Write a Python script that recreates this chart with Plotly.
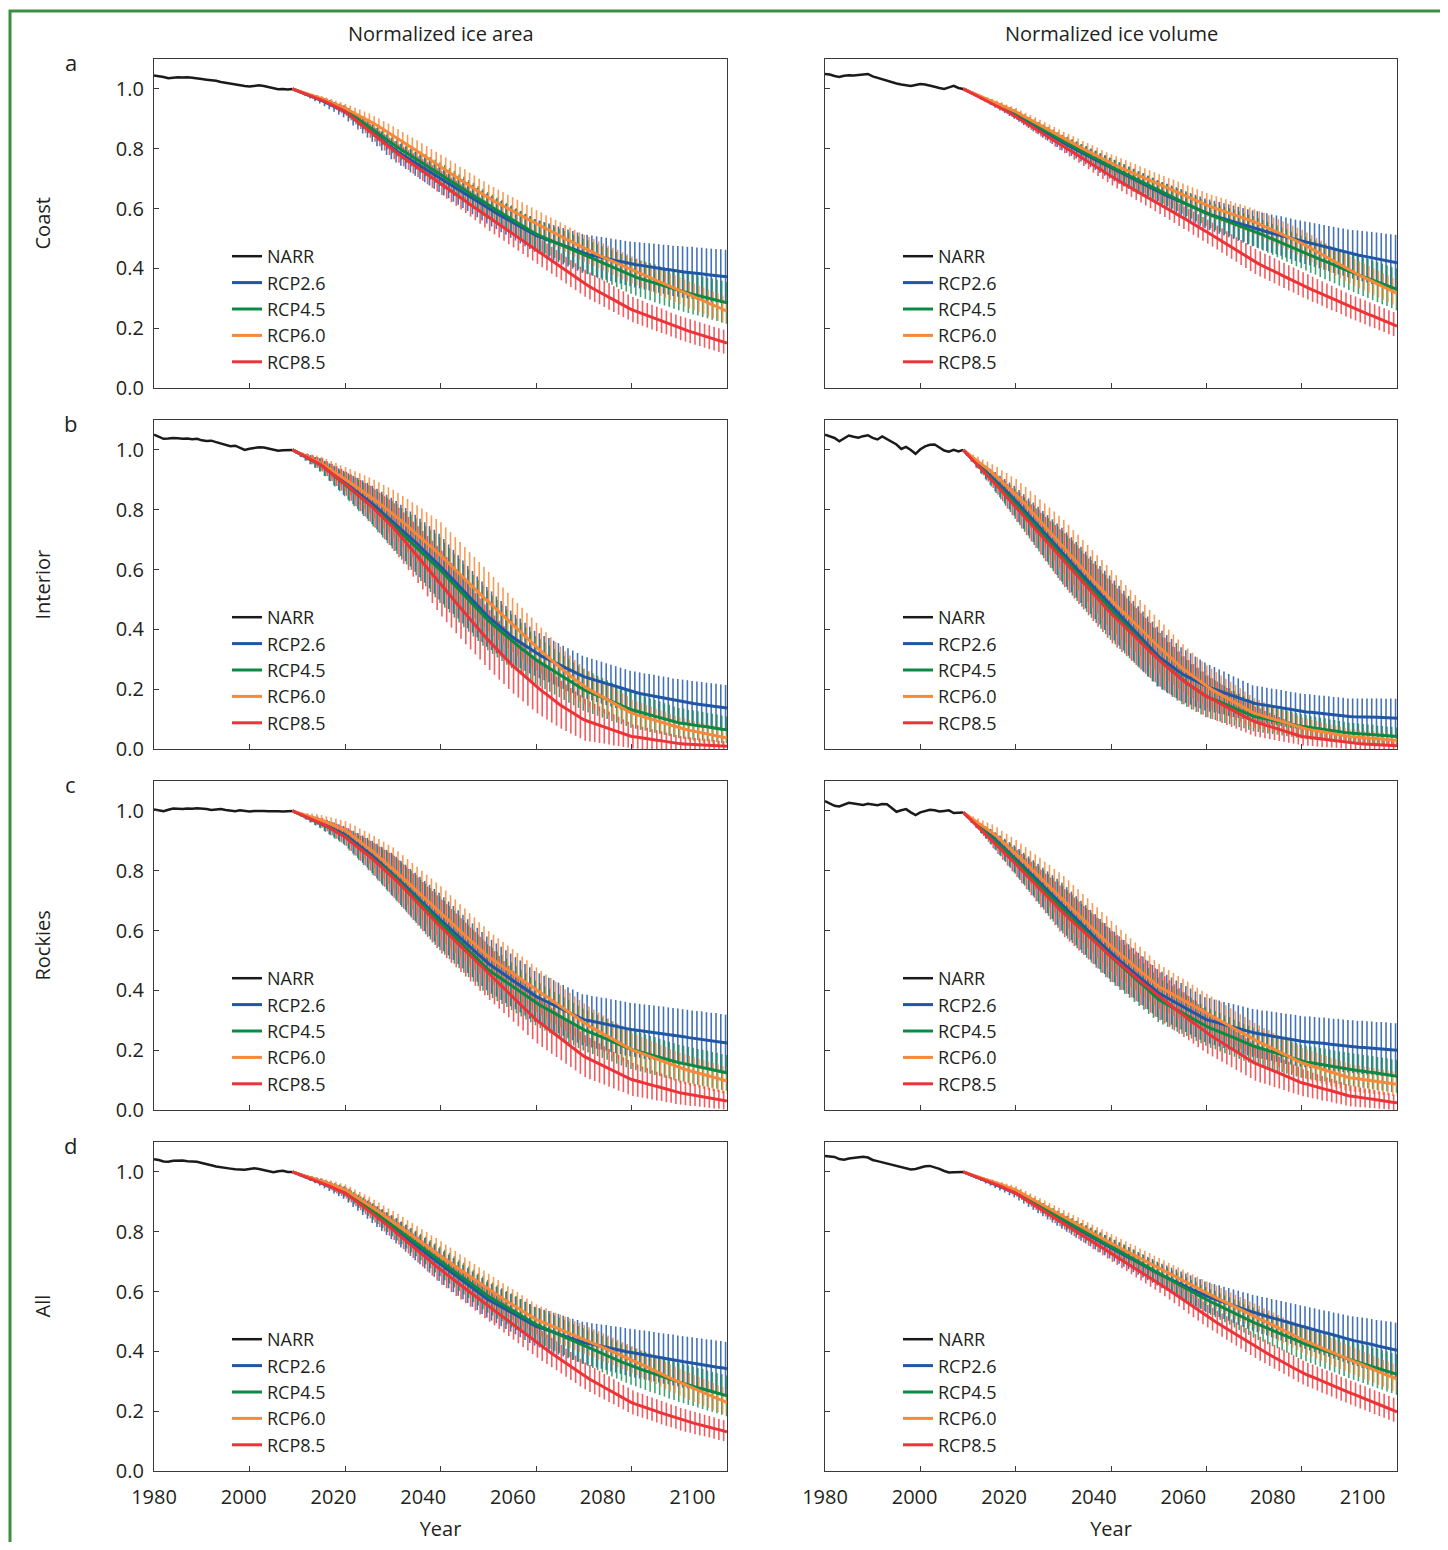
import plotly.graph_objects as go

# years
years_narr = list(range(1980, 2010))
years_proj = list(range(2009, 2101))
label_years = [1980, 2000, 2020, 2040, 2060, 2080, 2100]
tick_years = [2000, 2020, 2040, 2060, 2080]
y_ticks = [0.0, 0.2, 0.4, 0.6, 0.8, 1.0]

scenarios = ["RCP2.6", "RCP4.5", "RCP6.0", "RCP8.5"]
row_names = ["Coast", "Interior", "Rockies", "All"]
row_letters = ["a", "b", "c", "d"]
col_titles = ["Normalized ice area", "Normalized ice volume"]

# all values are normalized ice x 1000
narr_coast_area = [1045, 1043, 1040, 1036, 1038, 1039, 1038, 1039, 1037, 1036, 1033, 1031, 1030, 1027, 1023,
                   1020, 1018, 1015, 1012, 1010, 1008, 1010, 1012, 1010, 1006, 1002, 999, 1000, 998, 1000]
narr_coast_volume = [1050, 1048, 1043, 1040, 1044, 1046, 1045, 1047, 1048, 1050, 1042, 1037, 1033, 1028, 1022,
                     1018, 1015, 1012, 1010, 1013, 1016, 1015, 1012, 1007, 1003, 1000, 1005, 1010, 1003, 1000]
narr_interior_area = [1051, 1045, 1037, 1038, 1040, 1039, 1037, 1038, 1036, 1037, 1032, 1030, 1031, 1026, 1022,
                      1017, 1012, 1014, 1007, 1000, 1004, 1007, 1009, 1008, 1005, 1001, 997, 999, 1000, 1000]
narr_interior_volume = [1051, 1045, 1040, 1029, 1040, 1048, 1044, 1041, 1046, 1049, 1040, 1035, 1045, 1036, 1025,
                        1018, 1003, 1010, 1000, 987, 1002, 1012, 1017, 1018, 1008, 998, 994, 1000, 995, 1000]
narr_rockies_area = [1005, 1003, 999, 1004, 1008, 1007, 1006, 1008, 1007, 1009, 1008, 1006, 1003, 1004, 1006,
                     1003, 1000, 999, 1002, 1000, 998, 1000, 1001, 1000, 999, 1000, 999, 998, 998, 1000]
narr_rockies_volume = [1033, 1025, 1017, 1015, 1022, 1027, 1025, 1023, 1020, 1024, 1022, 1019, 1023, 1022, 1010,
                       997, 1002, 1006, 995, 986, 995, 1000, 1004, 1002, 998, 1000, 1002, 993, 995, 995]
narr_all_area = [1042, 1040, 1035, 1034, 1037, 1038, 1038, 1036, 1036, 1034, 1030, 1027, 1022, 1018, 1015,
                 1013, 1011, 1009, 1007, 1007, 1010, 1012, 1010, 1007, 1004, 999, 1002, 1004, 1000, 1000]
narr_all_volume = [1053, 1052, 1050, 1043, 1041, 1045, 1047, 1049, 1051, 1048, 1040, 1036, 1032, 1028, 1024,
                   1019, 1015, 1011, 1008, 1010, 1015, 1019, 1020, 1016, 1010, 1003, 998, 999, 1000, 1000]

# ---- Coast, area
coast_area_rcp26 = [1000, 994, 987, 981, 975, 968, 962, 955, 947, 940, 932, 925,
                    913, 901, 889, 877, 865, 852, 839, 826, 813, 800,
                    790, 780, 770, 760, 750, 740, 730, 720, 710, 700,
                    690, 680, 670, 660, 650, 640, 630, 620, 610, 600,
                    591, 582, 573, 564, 555, 546, 537, 528, 519, 510,
                    504, 498, 492, 486, 480, 474, 468, 462, 456, 450,
                    446, 443, 439, 436, 432, 429, 425, 422, 418, 415,
                    412, 410, 407, 405, 402, 400, 397, 395, 392, 390,
                    388, 386, 385, 383, 381, 379, 377, 376, 374, 372]
coast_area_rcp45 = [1000, 994, 988, 983, 977, 971, 965, 958, 951, 944, 937, 930,
                    919, 908, 897, 886, 875, 863, 851, 839, 827, 815,
                    805, 795, 785, 775, 765, 755, 745, 735, 725, 715,
                    705, 694, 684, 673, 663, 652, 642, 631, 621, 610,
                    601, 591, 582, 572, 563, 553, 544, 534, 525, 515,
                    508, 501, 494, 487, 480, 473, 466, 459, 452, 445,
                    438, 431, 424, 417, 410, 403, 396, 389, 382, 375,
                    370, 365, 360, 355, 350, 345, 340, 335, 330, 325,
                    321, 317, 313, 309, 305, 301, 297, 293, 289, 285]
coast_area_rcp60 = [1000, 995, 989, 984, 979, 973, 968, 961, 955, 948, 942, 935,
                    927, 919, 911, 903, 895, 885, 875, 865, 855, 845,
                    835, 824, 814, 803, 793, 782, 772, 761, 751, 740,
                    730, 719, 709, 698, 688, 677, 667, 656, 646, 635,
                    627, 618, 610, 601, 593, 584, 576, 567, 559, 550,
                    542, 533, 525, 517, 509, 500, 492, 484, 475, 467,
                    460, 453, 445, 438, 431, 424, 417, 409, 402, 395,
                    388, 381, 374, 367, 360, 353, 346, 339, 332, 325,
                    318, 311, 305, 298, 291, 284, 277, 271, 264, 257]
coast_area_rcp85 = [1000, 994, 988, 983, 977, 971, 965, 957, 949, 941, 933, 925,
                    912, 899, 886, 873, 860, 847, 834, 821, 808, 795,
                    784, 773, 762, 751, 740, 729, 718, 707, 696, 685,
                    674, 662, 651, 639, 628, 616, 605, 593, 582, 570,
                    559, 548, 537, 526, 515, 504, 493, 482, 471, 460,
                    449, 438, 427, 416, 405, 394, 383, 372, 361, 350,
                    341, 332, 324, 315, 306, 297, 288, 280, 271, 262,
                    256, 250, 243, 237, 231, 225, 219, 212, 206, 200,
                    195, 190, 185, 180, 175, 170, 165, 160, 155, 150]
coast_area_rcp26_err = [0, 2, 4, 5, 7, 9, 11, 13, 15, 16, 18, 20,
                        22, 23, 25, 26, 28, 29, 31, 32, 34, 35,
                        36, 37, 38, 39, 40, 41, 42, 43, 44, 45,
                        46, 46, 47, 47, 48, 48, 49, 49, 50, 50,
                        51, 51, 52, 52, 53, 53, 54, 54, 55, 55,
                        56, 57, 58, 59, 60, 61, 62, 63, 64, 65,
                        66, 67, 68, 69, 70, 71, 72, 73, 74, 75,
                        76, 77, 78, 79, 80, 81, 82, 83, 84, 85,
                        86, 86, 87, 87, 88, 88, 89, 89, 90, 90]
coast_area_rcp45_err = [0, 1, 3, 4, 5, 7, 8, 10, 11, 12, 14, 15,
                        17, 18, 20, 21, 23, 24, 26, 27, 29, 30,
                        31, 32, 33, 34, 35, 36, 37, 38, 39, 40,
                        41, 41, 42, 42, 43, 43, 44, 44, 45, 45,
                        46, 46, 47, 47, 48, 48, 49, 49, 50, 50,
                        51, 51, 52, 52, 53, 53, 54, 54, 55, 55,
                        56, 56, 57, 57, 58, 58, 59, 59, 60, 60,
                        61, 61, 62, 62, 63, 63, 64, 64, 65, 65,
                        66, 66, 67, 67, 68, 68, 69, 69, 70, 70]
coast_area_rcp60_err = [0, 1, 3, 4, 5, 7, 8, 10, 11, 12, 14, 15,
                        17, 18, 20, 21, 23, 24, 26, 27, 29, 30,
                        31, 32, 33, 34, 35, 36, 37, 38, 39, 40,
                        41, 41, 42, 42, 43, 43, 44, 44, 45, 45,
                        45, 45, 45, 45, 45, 45, 45, 45, 45, 45,
                        45, 45, 45, 45, 45, 45, 45, 45, 45, 45,
                        45, 45, 45, 45, 45, 45, 45, 45, 45, 45,
                        45, 45, 45, 45, 45, 45, 45, 45, 45, 45,
                        45, 45, 45, 45, 45, 45, 45, 45, 45, 45]
coast_area_rcp85_err = [0, 1, 3, 4, 5, 7, 8, 10, 11, 12, 14, 15,
                        17, 18, 20, 21, 23, 24, 26, 27, 29, 30,
                        31, 32, 33, 34, 35, 36, 37, 38, 39, 40,
                        41, 41, 42, 42, 43, 43, 44, 44, 45, 45,
                        45, 45, 45, 45, 45, 45, 45, 45, 45, 45,
                        45, 45, 45, 45, 45, 45, 45, 45, 45, 45,
                        45, 45, 44, 44, 44, 43, 43, 43, 42, 42,
                        42, 42, 41, 41, 41, 41, 40, 40, 40, 40,
                        40, 40, 40, 40, 40, 40, 40, 40, 40, 40]

# ---- Coast, volume
coast_volume_rcp26 = [1000, 993, 985, 978, 970, 963, 955, 947, 939, 931, 923, 915,
                      906, 896, 887, 877, 868, 858, 849, 839, 830, 820,
                      812, 803, 795, 786, 778, 769, 761, 752, 744, 735,
                      727, 719, 711, 703, 695, 687, 679, 671, 663, 655,
                      648, 641, 634, 627, 620, 612, 605, 598, 591, 584,
                      579, 574, 569, 564, 559, 554, 549, 544, 539, 534,
                      530, 525, 521, 516, 512, 508, 503, 499, 494, 490,
                      486, 482, 478, 474, 470, 466, 462, 458, 454, 450,
                      447, 444, 441, 438, 435, 432, 429, 425, 422, 419]
coast_volume_rcp45 = [1000, 993, 986, 979, 972, 965, 958, 950, 943, 935, 928, 920,
                      910, 901, 891, 882, 872, 863, 853, 844, 834, 825,
                      817, 808, 800, 791, 783, 774, 766, 757, 749, 740,
                      732, 724, 716, 708, 700, 692, 684, 676, 668, 660,
                      652, 645, 637, 630, 622, 614, 607, 599, 592, 584,
                      578, 572, 566, 560, 555, 549, 543, 537, 531, 525,
                      518, 511, 504, 497, 490, 483, 476, 469, 462, 455,
                      449, 442, 436, 429, 423, 416, 410, 403, 397, 390,
                      384, 378, 372, 366, 360, 354, 348, 342, 336, 330]
coast_volume_rcp60 = [1000, 993, 987, 980, 973, 967, 960, 953, 946, 938, 931, 924,
                      915, 906, 898, 889, 880, 871, 862, 853, 844, 835,
                      827, 818, 810, 801, 793, 785, 776, 768, 759, 751,
                      744, 737, 730, 723, 716, 708, 701, 694, 687, 680,
                      673, 666, 660, 653, 646, 639, 632, 626, 619, 612,
                      606, 601, 595, 590, 584, 578, 573, 567, 562, 556,
                      549, 542, 534, 527, 520, 513, 506, 498, 491, 484,
                      475, 466, 457, 448, 439, 430, 421, 412, 403, 394,
                      386, 378, 371, 363, 355, 347, 339, 332, 324, 316]
coast_volume_rcp85 = [1000, 992, 984, 976, 968, 960, 952, 943, 934, 926, 917, 908,
                      898, 888, 878, 868, 858, 848, 838, 827, 817, 807,
                      797, 787, 777, 767, 757, 747, 737, 727, 717, 707,
                      698, 689, 680, 671, 662, 653, 644, 635, 626, 617,
                      608, 598, 589, 579, 570, 561, 551, 542, 532, 523,
                      513, 503, 493, 483, 473, 463, 453, 443, 433, 423,
                      415, 407, 400, 392, 384, 376, 368, 361, 353, 345,
                      338, 330, 323, 316, 308, 301, 294, 287, 279, 272,
                      266, 259, 253, 246, 240, 233, 227, 220, 214, 207]
coast_volume_rcp26_err = [0, 1, 3, 4, 5, 7, 8, 10, 11, 12, 14, 15,
                          16, 17, 18, 19, 20, 21, 22, 23, 24, 25,
                          26, 27, 28, 29, 30, 31, 32, 33, 34, 35,
                          36, 36, 37, 37, 38, 38, 39, 39, 40, 40,
                          41, 42, 43, 44, 45, 46, 47, 48, 49, 50,
                          51, 52, 53, 54, 55, 56, 57, 58, 59, 60,
                          61, 62, 63, 64, 65, 66, 67, 68, 69, 70,
                          71, 72, 73, 74, 75, 76, 77, 78, 79, 80,
                          81, 83, 84, 85, 87, 88, 89, 91, 92, 93]
coast_volume_rcp45_err = [0, 1, 2, 3, 4, 5, 7, 8, 9, 10, 11, 12,
                          13, 14, 15, 16, 17, 18, 19, 20, 21, 22,
                          23, 24, 24, 25, 26, 27, 28, 28, 29, 30,
                          31, 31, 32, 32, 33, 33, 34, 34, 35, 35,
                          36, 37, 37, 38, 39, 39, 40, 41, 41, 42,
                          43, 44, 44, 45, 46, 47, 48, 48, 49, 50,
                          51, 51, 52, 52, 53, 53, 54, 54, 55, 55,
                          56, 57, 57, 58, 59, 59, 60, 61, 61, 62,
                          63, 64, 64, 65, 66, 67, 68, 68, 69, 70]
coast_volume_rcp60_err = [0, 1, 2, 3, 4, 5, 7, 8, 9, 10, 11, 12,
                          13, 14, 15, 16, 17, 18, 19, 20, 21, 22,
                          23, 24, 24, 25, 26, 27, 28, 28, 29, 30,
                          31, 31, 32, 32, 33, 33, 34, 34, 35, 35,
                          36, 36, 37, 37, 38, 38, 39, 39, 40, 40,
                          40, 40, 41, 41, 41, 41, 42, 42, 42, 42,
                          42, 43, 43, 43, 44, 44, 44, 45, 45, 45,
                          45, 45, 45, 45, 45, 45, 45, 45, 45, 45,
                          45, 45, 45, 45, 45, 45, 45, 45, 45, 45]
coast_volume_rcp85_err = [0, 1, 2, 3, 4, 5, 7, 8, 9, 10, 11, 12,
                          13, 14, 15, 16, 17, 18, 19, 20, 21, 22,
                          23, 24, 24, 25, 26, 27, 28, 28, 29, 30,
                          31, 31, 32, 32, 33, 33, 34, 34, 35, 35,
                          36, 36, 37, 37, 38, 38, 39, 39, 40, 40,
                          40, 40, 41, 41, 41, 41, 42, 42, 42, 42,
                          42, 42, 42, 42, 42, 42, 42, 42, 42, 42,
                          42, 42, 41, 41, 41, 41, 40, 40, 40, 40,
                          40, 40, 40, 40, 40, 40, 40, 40, 40, 40]

# ---- Interior, area
interior_area_rcp26 = [1000, 992, 983, 975, 967, 958, 950, 938, 926, 914, 902, 890,
                       878, 866, 854, 842, 830, 816, 802, 788, 774, 760,
                       746, 731, 717, 702, 688, 672, 657, 641, 626, 610,
                       593, 576, 559, 542, 525, 508, 492, 475, 459, 442,
                       429, 415, 402, 388, 375, 364, 353, 342, 331, 320,
                       312, 304, 297, 289, 281, 273, 265, 258, 250, 242,
                       237, 232, 227, 222, 217, 212, 207, 202, 197, 192,
                       189, 185, 182, 179, 176, 172, 169, 166, 162, 159,
                       157, 155, 152, 150, 148, 146, 144, 141, 139, 137]
interior_area_rcp45 = [1000, 992, 983, 975, 967, 958, 950, 937, 924, 911, 898, 885,
                       872, 860, 847, 835, 822, 808, 793, 779, 764, 750,
                       735, 720, 706, 691, 676, 660, 645, 629, 614, 598,
                       581, 564, 546, 529, 512, 496, 479, 463, 446, 430,
                       416, 402, 388, 374, 360, 348, 335, 323, 310, 298,
                       288, 278, 268, 258, 248, 238, 228, 218, 208, 198,
                       191, 185, 178, 171, 165, 158, 151, 145, 138, 131,
                       127, 122, 118, 113, 109, 105, 100, 96, 91, 87,
                       85, 82, 80, 78, 76, 73, 71, 69, 66, 64]
interior_area_rcp60 = [1000, 993, 985, 978, 970, 963, 955, 945, 934, 924, 913, 903,
                       892, 881, 870, 859, 848, 836, 824, 811, 799, 787,
                       774, 760, 747, 733, 720, 706, 691, 677, 662, 648,
                       632, 617, 601, 586, 570, 554, 539, 523, 508, 492,
                       477, 461, 446, 430, 415, 400, 386, 371, 357, 342,
                       328, 314, 300, 286, 272, 259, 247, 234, 222, 209,
                       200, 191, 182, 173, 165, 156, 147, 138, 129, 120,
                       115, 110, 105, 100, 95, 90, 85, 80, 75, 70,
                       67, 63, 60, 57, 53, 50, 47, 44, 40, 37]
interior_area_rcp85 = [1000, 992, 983, 975, 967, 958, 950, 937, 925, 912, 900, 887,
                       874, 860, 847, 833, 820, 804, 789, 773, 758, 742,
                       724, 705, 687, 668, 650, 631, 611, 592, 572, 553,
                       533, 514, 494, 475, 455, 437, 419, 401, 382, 364,
                       347, 330, 314, 297, 280, 266, 252, 237, 223, 209,
                       197, 185, 172, 160, 148, 138, 128, 118, 108, 98,
                       92, 87, 81, 76, 70, 64, 59, 53, 48, 42,
                       40, 37, 35, 32, 30, 28, 25, 23, 20, 18,
                       17, 16, 15, 14, 14, 13, 12, 11, 10, 9]
interior_area_rcp26_err = [0, 4, 7, 11, 15, 18, 22, 25, 29, 33, 36, 40,
                           44, 48, 52, 56, 60, 64, 68, 72, 76, 80,
                           83, 86, 89, 92, 95, 98, 101, 104, 107, 110,
                           109, 108, 107, 106, 105, 104, 103, 102, 101, 100,
                           98, 95, 93, 90, 88, 85, 83, 80, 78, 75,
                           75, 74, 74, 73, 73, 72, 72, 71, 71, 70,
                           70, 70, 70, 70, 70, 70, 70, 70, 70, 70,
                           70, 71, 71, 72, 72, 73, 73, 74, 74, 75,
                           75, 75, 75, 76, 76, 76, 76, 77, 77, 77]
interior_area_rcp45_err = [0, 4, 7, 11, 15, 18, 22, 25, 29, 33, 36, 40,
                           44, 48, 52, 56, 60, 64, 68, 72, 76, 80,
                           83, 86, 89, 92, 95, 98, 101, 104, 107, 110,
                           109, 108, 107, 106, 105, 104, 103, 102, 101, 100,
                           98, 96, 94, 92, 90, 88, 86, 84, 82, 80,
                           79, 78, 77, 76, 75, 74, 73, 72, 71, 70,
                           69, 68, 67, 66, 65, 64, 63, 62, 61, 60,
                           59, 58, 57, 56, 55, 54, 53, 52, 51, 50,
                           50, 49, 49, 48, 48, 47, 47, 46, 46, 45]
interior_area_rcp60_err = [0, 4, 7, 11, 15, 18, 22, 25, 29, 33, 36, 40,
                           44, 48, 52, 56, 60, 64, 68, 72, 76, 80,
                           83, 86, 89, 92, 95, 98, 101, 104, 107, 110,
                           109, 108, 107, 106, 105, 104, 103, 102, 101, 100,
                           98, 96, 94, 92, 90, 88, 86, 84, 82, 80,
                           78, 76, 74, 72, 70, 68, 66, 64, 62, 60,
                           59, 57, 56, 54, 53, 51, 50, 48, 47, 45,
                           44, 43, 42, 41, 40, 39, 38, 37, 36, 35,
                           35, 34, 34, 33, 33, 32, 32, 31, 31, 30]
interior_area_rcp85_err = [0, 4, 7, 11, 15, 18, 22, 25, 29, 33, 36, 40,
                           44, 48, 52, 56, 60, 64, 68, 72, 76, 80,
                           83, 86, 89, 92, 95, 98, 101, 104, 107, 110,
                           109, 108, 107, 106, 105, 104, 103, 102, 101, 100,
                           99, 98, 97, 96, 95, 94, 93, 92, 91, 90,
                           88, 86, 84, 82, 80, 78, 76, 74, 72, 70,
                           67, 64, 61, 58, 55, 52, 49, 46, 43, 40,
                           39, 37, 36, 34, 33, 31, 30, 28, 27, 25,
                           24, 23, 22, 21, 20, 19, 18, 17, 16, 15]

# ---- Interior, volume
interior_volume_rcp26 = [1000, 985, 970, 955, 940, 925, 910, 894, 878, 862, 846, 830,
                         812, 794, 776, 758, 740, 722, 704, 686, 668, 650,
                         633, 616, 599, 582, 565, 548, 531, 514, 497, 480,
                         463, 446, 429, 412, 395, 377, 360, 343, 326, 309,
                         297, 285, 274, 262, 250, 242, 234, 225, 217, 209,
                         203, 198, 192, 187, 181, 175, 170, 164, 159, 153,
                         150, 148, 145, 142, 140, 137, 134, 131, 129, 126,
                         124, 123, 121, 119, 118, 116, 114, 113, 111, 109,
                         108, 108, 107, 107, 106, 106, 105, 104, 104, 103]
interior_volume_rcp45 = [1000, 984, 968, 953, 937, 921, 905, 888, 871, 854, 837, 820,
                         802, 784, 766, 748, 730, 712, 694, 676, 658, 640,
                         623, 605, 588, 570, 553, 535, 518, 500, 483, 465,
                         449, 432, 416, 399, 383, 366, 350, 333, 317, 300,
                         286, 272, 258, 244, 230, 219, 208, 198, 187, 176,
                         169, 163, 156, 149, 143, 136, 129, 123, 116, 109,
                         106, 102, 99, 96, 93, 89, 86, 83, 79, 76,
                         74, 71, 69, 67, 65, 62, 60, 58, 55, 53,
                         52, 51, 50, 49, 48, 46, 45, 44, 43, 42]
interior_volume_rcp60 = [1000, 988, 975, 963, 950, 938, 925, 911, 896, 882, 867, 853,
                         835, 818, 800, 783, 765, 747, 729, 712, 694, 676,
                         658, 640, 623, 605, 587, 569, 551, 534, 516, 498,
                         482, 467, 451, 436, 420, 404, 389, 373, 358, 342,
                         328, 313, 299, 284, 270, 258, 246, 233, 221, 209,
                         200, 191, 182, 173, 165, 156, 147, 138, 129, 120,
                         115, 110, 105, 100, 95, 90, 85, 80, 75, 70,
                         67, 64, 62, 59, 56, 53, 50, 48, 45, 42,
                         41, 39, 38, 37, 36, 34, 33, 32, 30, 29]
interior_volume_rcp85 = [1000, 983, 967, 950, 933, 917, 900, 882, 864, 845, 827, 809,
                         791, 773, 756, 738, 720, 702, 684, 667, 649, 631,
                         613, 595, 578, 560, 542, 524, 506, 489, 471, 453,
                         438, 422, 407, 391, 376, 360, 345, 329, 314, 298,
                         284, 271, 257, 244, 230, 219, 208, 198, 187, 176,
                         168, 159, 151, 142, 134, 126, 117, 109, 100, 92,
                         87, 82, 77, 72, 67, 62, 57, 52, 47, 42,
                         40, 38, 35, 33, 31, 29, 27, 24, 22, 20,
                         19, 18, 17, 16, 16, 15, 14, 13, 12, 11]
interior_volume_rcp26_err = [0, 5, 9, 14, 18, 23, 27, 32, 36, 41, 45, 50,
                             54, 58, 62, 66, 70, 74, 78, 82, 86, 90,
                             91, 92, 93, 94, 95, 96, 97, 98, 99, 100,
                             100, 100, 100, 100, 100, 100, 100, 100, 100, 100,
                             98, 96, 94, 92, 90, 88, 86, 84, 82, 80,
                             78, 76, 74, 72, 70, 68, 66, 64, 62, 60,
                             60, 60, 60, 60, 60, 60, 60, 60, 60, 60,
                             60, 60, 60, 60, 60, 60, 60, 60, 60, 60,
                             61, 61, 62, 62, 63, 63, 64, 64, 65, 65]
interior_volume_rcp45_err = [0, 5, 9, 14, 18, 23, 27, 32, 36, 41, 45, 50,
                             54, 58, 62, 66, 70, 74, 78, 82, 86, 90,
                             91, 92, 93, 94, 95, 96, 97, 98, 99, 100,
                             99, 98, 97, 96, 95, 94, 93, 92, 91, 90,
                             88, 86, 84, 82, 80, 78, 76, 74, 72, 70,
                             68, 66, 64, 62, 60, 58, 56, 54, 52, 50,
                             49, 48, 47, 46, 45, 44, 43, 42, 41, 40,
                             40, 39, 39, 38, 38, 37, 37, 36, 36, 35,
                             35, 34, 34, 33, 33, 32, 32, 31, 31, 30]
interior_volume_rcp60_err = [0, 5, 9, 14, 18, 23, 27, 32, 36, 41, 45, 50,
                             54, 58, 62, 66, 70, 74, 78, 82, 86, 90,
                             91, 92, 93, 94, 95, 96, 97, 98, 99, 100,
                             99, 98, 97, 96, 95, 94, 93, 92, 91, 90,
                             88, 86, 84, 82, 80, 78, 76, 74, 72, 70,
                             68, 66, 64, 62, 60, 58, 56, 54, 52, 50,
                             49, 47, 46, 44, 43, 41, 40, 38, 37, 35,
                             34, 33, 32, 31, 30, 29, 28, 27, 26, 25,
                             25, 24, 24, 23, 23, 22, 22, 21, 21, 20]
interior_volume_rcp85_err = [0, 5, 9, 14, 18, 23, 27, 32, 36, 41, 45, 50,
                             54, 58, 62, 66, 70, 74, 78, 82, 86, 90,
                             91, 92, 93, 94, 95, 96, 97, 98, 99, 100,
                             99, 98, 97, 96, 95, 94, 93, 92, 91, 90,
                             88, 86, 84, 82, 80, 78, 76, 74, 72, 70,
                             68, 66, 64, 62, 60, 58, 56, 54, 52, 50,
                             48, 46, 44, 42, 40, 38, 36, 34, 32, 30,
                             29, 28, 27, 26, 25, 24, 23, 22, 21, 20,
                             19, 18, 18, 17, 16, 15, 14, 14, 13, 12]

# ---- Rockies, area
rockies_area_rcp26 = [1000, 993, 987, 980, 973, 967, 960, 952, 944, 936, 928, 920,
                      908, 896, 884, 872, 860, 846, 832, 818, 804, 790,
                      775, 759, 744, 728, 713, 698, 682, 667, 651, 636,
                      621, 607, 592, 578, 563, 548, 534, 519, 505, 490,
                      479, 468, 457, 446, 435, 424, 413, 402, 391, 380,
                      372, 364, 357, 349, 341, 333, 325, 318, 310, 302,
                      299, 295, 292, 289, 286, 282, 279, 276, 272, 269,
                      267, 265, 262, 260, 258, 256, 254, 251, 249, 247,
                      245, 242, 240, 238, 236, 233, 231, 229, 226, 224]
rockies_area_rcp45 = [1000, 993, 986, 979, 972, 965, 958, 949, 941, 932, 924, 915,
                      902, 890, 877, 865, 852, 839, 825, 812, 798, 785,
                      769, 753, 737, 721, 705, 688, 672, 656, 640, 624,
                      609, 593, 578, 562, 547, 531, 516, 500, 485, 469,
                      458, 447, 436, 425, 414, 402, 391, 380, 369, 358,
                      349, 340, 331, 322, 314, 305, 296, 287, 278, 269,
                      262, 256, 249, 242, 236, 229, 222, 215, 209, 202,
                      198, 193, 189, 184, 180, 176, 171, 167, 162, 158,
                      155, 151, 148, 144, 141, 138, 134, 131, 127, 124]
rockies_area_rcp60 = [1000, 995, 990, 985, 980, 975, 970, 963, 956, 950, 943, 936,
                      924, 912, 899, 887, 875, 862, 848, 835, 821, 808,
                      793, 778, 763, 748, 733, 718, 703, 688, 673, 658,
                      644, 629, 615, 600, 586, 571, 557, 542, 528, 513,
                      502, 491, 480, 469, 458, 446, 435, 424, 413, 402,
                      391, 380, 369, 358, 347, 335, 324, 313, 302, 291,
                      282, 273, 264, 255, 247, 238, 229, 220, 211, 202,
                      196, 190, 184, 178, 172, 165, 159, 153, 147, 141,
                      137, 132, 128, 123, 119, 115, 110, 106, 101, 97]
rockies_area_rcp85 = [1000, 993, 987, 980, 973, 967, 960, 951, 941, 932, 922, 913,
                      900, 888, 875, 863, 850, 836, 822, 808, 794, 780,
                      763, 747, 730, 713, 697, 680, 663, 646, 630, 613,
                      598, 582, 567, 551, 536, 520, 505, 489, 474, 458,
                      442, 427, 411, 396, 380, 364, 349, 333, 318, 302,
                      290, 278, 265, 253, 241, 229, 217, 204, 192, 180,
                      172, 164, 157, 149, 141, 133, 125, 118, 110, 102,
                      98, 93, 89, 84, 80, 76, 71, 67, 62, 58,
                      55, 52, 50, 47, 44, 41, 38, 36, 33, 30]
rockies_area_rcp26_err = [0, 3, 5, 8, 11, 14, 16, 19, 22, 25, 27, 30,
                          34, 38, 42, 46, 50, 54, 58, 62, 66, 70,
                          72, 74, 76, 78, 80, 82, 84, 86, 88, 90,
                          90, 90, 90, 90, 90, 90, 90, 90, 90, 90,
                          90, 89, 89, 88, 88, 87, 87, 86, 86, 85,
                          85, 85, 85, 85, 85, 85, 85, 85, 85, 85,
                          86, 86, 87, 87, 88, 88, 89, 89, 90, 90,
                          90, 90, 91, 91, 91, 91, 92, 92, 92, 92,
                          92, 93, 93, 93, 94, 94, 94, 95, 95, 95]
rockies_area_rcp45_err = [0, 3, 5, 8, 11, 14, 16, 19, 22, 25, 27, 30,
                          34, 38, 42, 46, 50, 54, 58, 62, 66, 70,
                          72, 74, 76, 78, 80, 82, 84, 86, 88, 90,
                          90, 89, 89, 88, 88, 87, 87, 86, 86, 85,
                          84, 83, 82, 81, 80, 79, 78, 77, 76, 75,
                          75, 74, 74, 73, 73, 72, 72, 71, 71, 70,
                          70, 69, 69, 68, 68, 67, 67, 66, 66, 65,
                          65, 64, 64, 63, 63, 62, 62, 61, 61, 60,
                          60, 60, 60, 60, 60, 60, 60, 60, 60, 60]
rockies_area_rcp60_err = [0, 3, 5, 8, 11, 14, 16, 19, 22, 25, 27, 30,
                          34, 38, 42, 46, 50, 54, 58, 62, 66, 70,
                          72, 74, 76, 78, 80, 82, 84, 86, 88, 90,
                          90, 89, 89, 88, 88, 87, 87, 86, 86, 85,
                          84, 83, 82, 81, 80, 79, 78, 77, 76, 75,
                          74, 73, 72, 71, 70, 69, 68, 67, 66, 65,
                          64, 63, 62, 61, 60, 59, 58, 57, 56, 55,
                          55, 54, 54, 53, 53, 52, 52, 51, 51, 50,
                          50, 49, 49, 48, 48, 47, 47, 46, 46, 45]
rockies_area_rcp85_err = [0, 3, 5, 8, 11, 14, 16, 19, 22, 25, 27, 30,
                          34, 38, 42, 46, 50, 54, 58, 62, 66, 70,
                          72, 74, 76, 78, 80, 82, 84, 86, 88, 90,
                          90, 90, 90, 90, 90, 90, 90, 90, 90, 90,
                          89, 88, 87, 86, 85, 84, 83, 82, 81, 80,
                          79, 78, 77, 76, 75, 74, 73, 72, 71, 70,
                          69, 67, 66, 64, 63, 61, 60, 58, 57, 55,
                          54, 52, 51, 49, 48, 46, 45, 43, 42, 40,
                          39, 38, 37, 36, 35, 34, 33, 32, 31, 30]

# ---- Rockies, volume
rockies_volume_rcp26 = [995, 982, 968, 955, 942, 928, 915, 900, 885, 870, 855, 840,
                        824, 808, 792, 776, 760, 744, 728, 712, 696, 680,
                        664, 649, 633, 618, 602, 586, 571, 555, 540, 524,
                        511, 497, 484, 471, 458, 444, 431, 418, 404, 391,
                        382, 373, 364, 355, 347, 338, 329, 320, 311, 302,
                        298, 293, 289, 284, 280, 276, 271, 267, 262, 258,
                        255, 252, 250, 247, 244, 241, 238, 236, 233, 230,
                        228, 227, 225, 223, 222, 220, 218, 217, 215, 213,
                        212, 210, 209, 208, 207, 205, 204, 203, 201, 200]
rockies_volume_rcp45 = [995, 981, 967, 954, 940, 926, 912, 897, 881, 866, 850, 835,
                        818, 802, 785, 769, 752, 736, 719, 703, 686, 670,
                        654, 639, 623, 607, 592, 576, 560, 544, 529, 513,
                        499, 484, 470, 456, 441, 427, 413, 398, 384, 369,
                        360, 351, 342, 333, 325, 316, 307, 298, 289, 280,
                        273, 267, 260, 253, 247, 240, 233, 226, 220, 213,
                        208, 203, 198, 193, 188, 183, 178, 173, 168, 163,
                        160, 158, 155, 152, 150, 147, 144, 141, 139, 136,
                        134, 131, 129, 127, 125, 122, 120, 118, 115, 113]
rockies_volume_rcp60 = [995, 984, 973, 963, 952, 941, 930, 916, 901, 887, 872, 858,
                        842, 827, 811, 796, 780, 764, 749, 733, 718, 702,
                        687, 671, 656, 640, 625, 609, 594, 578, 563, 547,
                        534, 520, 507, 493, 480, 467, 453, 440, 426, 413,
                        404, 395, 386, 377, 369, 360, 351, 342, 333, 324,
                        315, 306, 298, 289, 280, 271, 262, 254, 245, 236,
                        228, 220, 213, 205, 197, 189, 181, 174, 166, 158,
                        153, 148, 143, 138, 133, 128, 123, 118, 113, 108,
                        106, 104, 101, 99, 97, 95, 93, 90, 88, 86]
rockies_volume_rcp85 = [995, 979, 963, 948, 932, 916, 900, 885, 870, 854, 839, 824,
                        807, 790, 774, 757, 740, 724, 707, 691, 674, 658,
                        644, 629, 615, 600, 586, 571, 557, 542, 528, 513,
                        500, 486, 473, 460, 447, 433, 420, 407, 393, 380,
                        368, 356, 343, 331, 319, 307, 295, 282, 270, 258,
                        248, 238, 228, 218, 208, 198, 188, 178, 168, 158,
                        151, 145, 138, 131, 125, 118, 111, 104, 98, 91,
                        87, 82, 78, 73, 69, 65, 60, 56, 51, 47,
                        45, 42, 40, 38, 36, 33, 31, 29, 26, 24]
rockies_volume_rcp26_err = [0, 4, 8, 12, 16, 20, 25, 29, 33, 37, 41, 45,
                            49, 52, 56, 59, 63, 66, 70, 73, 77, 80,
                            81, 81, 82, 82, 83, 83, 84, 84, 85, 85,
                            85, 84, 84, 83, 83, 82, 82, 81, 81, 80,
                            80, 79, 79, 78, 78, 77, 77, 76, 76, 75,
                            76, 76, 77, 77, 78, 78, 79, 79, 80, 80,
                            81, 81, 82, 82, 83, 83, 84, 84, 85, 85,
                            85, 86, 86, 86, 87, 87, 87, 88, 88, 88,
                            88, 88, 89, 89, 89, 89, 90, 90, 90, 90]
rockies_volume_rcp45_err = [0, 4, 8, 12, 16, 20, 25, 29, 33, 37, 41, 45,
                            49, 52, 56, 59, 63, 66, 70, 73, 77, 80,
                            81, 81, 82, 82, 83, 83, 84, 84, 85, 85,
                            84, 83, 82, 81, 80, 79, 78, 77, 76, 75,
                            74, 73, 72, 71, 70, 69, 68, 67, 66, 65,
                            65, 64, 64, 63, 63, 62, 62, 61, 61, 60,
                            60, 59, 59, 58, 58, 57, 57, 56, 56, 55,
                            55, 55, 55, 55, 55, 55, 55, 55, 55, 55,
                            55, 55, 55, 55, 55, 55, 55, 55, 55, 55]
rockies_volume_rcp60_err = [0, 4, 8, 12, 16, 20, 25, 29, 33, 37, 41, 45,
                            49, 52, 56, 59, 63, 66, 70, 73, 77, 80,
                            81, 81, 82, 82, 83, 83, 84, 84, 85, 85,
                            84, 83, 82, 81, 80, 79, 78, 77, 76, 75,
                            74, 73, 72, 71, 70, 69, 68, 67, 66, 65,
                            64, 63, 62, 61, 60, 59, 58, 57, 56, 55,
                            55, 54, 54, 53, 53, 52, 52, 51, 51, 50,
                            50, 49, 49, 48, 48, 47, 47, 46, 46, 45,
                            45, 44, 44, 43, 43, 42, 42, 41, 41, 40]
rockies_volume_rcp85_err = [0, 4, 8, 12, 16, 20, 25, 29, 33, 37, 41, 45,
                            49, 52, 56, 59, 63, 66, 70, 73, 77, 80,
                            81, 81, 82, 82, 83, 83, 84, 84, 85, 85,
                            85, 84, 84, 83, 83, 82, 82, 81, 81, 80,
                            79, 78, 77, 76, 75, 74, 73, 72, 71, 70,
                            69, 68, 67, 66, 65, 64, 63, 62, 61, 60,
                            59, 57, 56, 54, 53, 51, 50, 48, 47, 45,
                            44, 43, 42, 41, 40, 39, 38, 37, 36, 35,
                            34, 33, 32, 31, 30, 29, 28, 27, 26, 25]

# ---- All, area
all_area_rcp26 = [1000, 994, 988, 983, 977, 971, 965, 958, 951, 944, 937, 930,
                  919, 907, 896, 884, 873, 861, 850, 838, 827, 815,
                  803, 790, 778, 765, 753, 740, 728, 715, 703, 690,
                  678, 667, 655, 643, 632, 620, 608, 597, 585, 573,
                  564, 555, 546, 537, 529, 520, 511, 502, 493, 484,
                  479, 473, 468, 462, 457, 451, 446, 440, 435, 429,
                  426, 422, 419, 416, 413, 409, 406, 403, 399, 396,
                  393, 390, 388, 385, 382, 379, 376, 374, 371, 368,
                  365, 363, 360, 358, 355, 352, 350, 347, 345, 342]
all_area_rcp45 = [1000, 995, 989, 984, 979, 973, 968, 961, 955, 948, 942, 935,
                  924, 913, 902, 891, 880, 868, 856, 844, 832, 820,
                  808, 796, 784, 772, 761, 749, 737, 725, 713, 701,
                  689, 678, 666, 654, 643, 631, 619, 607, 596, 584,
                  575, 565, 556, 546, 537, 528, 518, 509, 499, 490,
                  483, 476, 468, 461, 454, 447, 440, 432, 425, 418,
                  411, 405, 398, 391, 385, 378, 371, 364, 358, 351,
                  346, 340, 335, 329, 324, 318, 313, 307, 302, 296,
                  292, 287, 283, 278, 274, 269, 265, 260, 256, 251]
all_area_rcp60 = [1000, 995, 990, 985, 980, 975, 970, 964, 958, 952, 946, 940,
                  930, 920, 910, 900, 890, 879, 868, 856, 845, 834,
                  822, 811, 799, 788, 776, 764, 753, 741, 730, 718,
                  707, 696, 685, 674, 663, 651, 640, 629, 618, 607,
                  597, 587, 577, 567, 557, 547, 537, 527, 517, 507,
                  500, 494, 487, 480, 474, 467, 460, 453, 447, 440,
                  433, 427, 420, 413, 407, 400, 393, 386, 380, 373,
                  365, 358, 350, 342, 335, 327, 319, 311, 304, 296,
                  289, 283, 276, 269, 263, 256, 249, 242, 236, 229]
all_area_rcp85 = [1000, 994, 988, 983, 977, 971, 965, 958, 951, 943, 936, 929,
                  918, 906, 895, 883, 872, 859, 846, 833, 820, 807,
                  794, 780, 767, 753, 740, 727, 713, 700, 686, 673,
                  661, 649, 636, 624, 612, 600, 588, 575, 563, 551,
                  539, 527, 514, 502, 490, 478, 466, 453, 441, 429,
                  418, 407, 396, 385, 374, 362, 351, 340, 329, 318,
                  309, 300, 291, 282, 274, 265, 256, 247, 238, 229,
                  223, 218, 212, 207, 201, 195, 190, 184, 179, 173,
                  169, 165, 160, 156, 152, 148, 144, 139, 135, 131]
all_area_rcp26_err = [0, 2, 4, 5, 7, 9, 11, 13, 15, 16, 18, 20,
                      22, 24, 26, 28, 30, 32, 34, 36, 38, 40,
                      42, 43, 45, 46, 48, 49, 51, 52, 54, 55,
                      56, 56, 57, 57, 58, 58, 59, 59, 60, 60,
                      61, 61, 62, 62, 63, 63, 64, 64, 65, 65,
                      66, 66, 67, 67, 68, 68, 69, 69, 70, 70,
                      71, 72, 73, 74, 75, 76, 77, 78, 79, 80,
                      81, 81, 82, 82, 83, 83, 84, 84, 85, 85,
                      86, 86, 87, 87, 88, 88, 89, 89, 90, 90]
all_area_rcp45_err = [0, 2, 3, 5, 7, 8, 10, 11, 13, 15, 16, 18,
                      20, 21, 23, 25, 27, 28, 30, 32, 33, 35,
                      37, 38, 40, 41, 43, 44, 46, 47, 49, 50,
                      51, 51, 52, 52, 53, 53, 54, 54, 55, 55,
                      55, 56, 56, 56, 57, 57, 57, 57, 58, 58,
                      58, 58, 59, 59, 59, 59, 59, 60, 60, 60,
                      60, 61, 61, 61, 62, 62, 62, 62, 63, 63,
                      63, 63, 64, 64, 64, 64, 64, 65, 65, 65,
                      65, 66, 66, 66, 67, 67, 67, 67, 68, 68]
all_area_rcp60_err = [0, 2, 3, 5, 7, 8, 10, 11, 13, 15, 16, 18,
                      20, 21, 23, 25, 27, 28, 30, 32, 33, 35,
                      37, 38, 40, 41, 43, 44, 46, 47, 49, 50,
                      50, 51, 51, 51, 51, 51, 52, 52, 52, 52,
                      52, 52, 51, 51, 51, 51, 51, 50, 50, 50,
                      50, 50, 49, 49, 49, 49, 49, 48, 48, 48,
                      48, 47, 47, 47, 46, 46, 46, 45, 45, 45,
                      45, 45, 45, 45, 45, 45, 45, 45, 45, 45,
                      45, 45, 45, 45, 45, 45, 45, 45, 45, 45]
all_area_rcp85_err = [0, 2, 3, 5, 7, 8, 10, 11, 13, 15, 16, 18,
                      20, 21, 23, 25, 27, 28, 30, 32, 33, 35,
                      37, 38, 40, 41, 43, 44, 46, 47, 49, 50,
                      50, 51, 51, 51, 51, 51, 52, 52, 52, 52,
                      52, 52, 51, 51, 51, 51, 51, 50, 50, 50,
                      50, 49, 49, 48, 48, 47, 47, 46, 46, 45,
                      45, 44, 44, 43, 43, 42, 42, 41, 41, 40,
                      40, 40, 39, 39, 39, 39, 39, 38, 38, 38,
                      38, 37, 37, 37, 36, 36, 36, 35, 35, 35]

# ---- All, volume
all_volume_rcp26 = [1000, 994, 987, 981, 975, 968, 962, 956, 949, 943, 936, 930,
                    920, 911, 901, 892, 882, 873, 863, 854, 844, 835,
                    826, 817, 808, 799, 791, 782, 773, 764, 755, 746,
                    737, 729, 720, 712, 703, 694, 686, 677, 669, 660,
                    652, 645, 637, 630, 622, 614, 607, 599, 592, 584,
                    579, 573, 568, 562, 557, 551, 546, 540, 535, 529,
                    525, 520, 516, 511, 507, 502, 498, 493, 489, 484,
                    480, 475, 471, 466, 462, 458, 453, 449, 444, 440,
                    436, 433, 429, 426, 422, 418, 415, 411, 408, 404]
all_volume_rcp45 = [1000, 994, 988, 983, 977, 971, 965, 959, 953, 947, 941, 935,
                    926, 916, 907, 897, 888, 878, 869, 859, 850, 840,
                    831, 822, 813, 804, 796, 787, 778, 769, 760, 751,
                    742, 733, 724, 715, 706, 696, 687, 678, 669, 660,
                    651, 643, 634, 625, 617, 608, 599, 590, 582, 573,
                    565, 558, 550, 542, 535, 527, 519, 511, 504, 496,
                    489, 483, 476, 469, 463, 456, 449, 442, 436, 429,
                    423, 418, 412, 407, 401, 395, 390, 384, 379, 373,
                    368, 363, 358, 353, 348, 343, 338, 333, 328, 323]
all_volume_rcp60 = [1000, 995, 989, 984, 979, 973, 968, 962, 957, 951, 946, 940,
                    931, 922, 913, 904, 895, 886, 877, 868, 859, 850,
                    841, 832, 824, 815, 806, 797, 788, 780, 771, 762,
                    754, 745, 737, 729, 721, 712, 704, 696, 687, 679,
                    671, 662, 654, 646, 638, 629, 621, 613, 604, 596,
                    588, 580, 573, 565, 557, 549, 541, 534, 526, 518,
                    510, 502, 495, 487, 479, 471, 463, 456, 448, 440,
                    433, 427, 420, 413, 407, 400, 393, 386, 380, 373,
                    366, 360, 353, 347, 340, 333, 327, 320, 314, 307]
all_volume_rcp85 = [1000, 994, 988, 983, 977, 971, 965, 958, 951, 943, 936, 929,
                    919, 909, 899, 889, 879, 869, 859, 849, 839, 829,
                    819, 809, 799, 789, 779, 769, 759, 749, 739, 729,
                    719, 709, 699, 689, 679, 669, 659, 649, 639, 629,
                    618, 607, 596, 585, 574, 562, 551, 540, 529, 518,
                    508, 498, 488, 478, 468, 458, 448, 438, 428, 418,
                    409, 400, 391, 382, 374, 365, 356, 347, 338, 329,
                    322, 316, 309, 302, 296, 289, 282, 275, 269, 262,
                    256, 249, 243, 237, 230, 224, 218, 211, 205, 198]
all_volume_rcp26_err = [0, 1, 3, 4, 5, 7, 8, 10, 11, 12, 14, 15,
                        16, 17, 18, 19, 20, 21, 22, 23, 24, 25,
                        26, 27, 28, 29, 30, 31, 32, 33, 34, 35,
                        36, 36, 37, 37, 38, 38, 39, 39, 40, 40,
                        41, 42, 43, 44, 45, 46, 47, 48, 49, 50,
                        51, 52, 53, 54, 55, 56, 57, 58, 59, 60,
                        61, 62, 63, 64, 65, 66, 67, 68, 69, 70,
                        71, 72, 73, 74, 75, 76, 77, 78, 79, 80,
                        81, 82, 84, 85, 86, 87, 88, 90, 91, 92]
all_volume_rcp45_err = [0, 1, 2, 3, 4, 5, 7, 8, 9, 10, 11, 12,
                        13, 14, 15, 16, 17, 18, 19, 20, 21, 22,
                        23, 24, 24, 25, 26, 27, 28, 28, 29, 30,
                        31, 31, 32, 32, 33, 33, 34, 34, 35, 35,
                        36, 37, 37, 38, 39, 39, 40, 41, 41, 42,
                        43, 44, 44, 45, 46, 47, 48, 48, 49, 50,
                        51, 51, 52, 52, 53, 53, 54, 54, 55, 55,
                        56, 57, 57, 58, 59, 59, 60, 61, 61, 62,
                        63, 63, 64, 65, 65, 66, 66, 67, 67, 68]
all_volume_rcp60_err = [0, 1, 2, 3, 4, 5, 7, 8, 9, 10, 11, 12,
                        13, 14, 15, 16, 17, 18, 19, 20, 21, 22,
                        23, 24, 24, 25, 26, 27, 28, 28, 29, 30,
                        30, 31, 31, 31, 32, 32, 32, 33, 33, 33,
                        34, 34, 35, 35, 36, 36, 37, 37, 38, 38,
                        38, 39, 39, 39, 40, 40, 41, 41, 41, 42,
                        42, 42, 42, 43, 43, 43, 43, 44, 44, 44,
                        44, 44, 44, 44, 45, 45, 45, 45, 45, 45,
                        45, 45, 45, 45, 45, 45, 45, 45, 45, 45]
all_volume_rcp85_err = [0, 1, 2, 3, 4, 5, 7, 8, 9, 10, 11, 12,
                        13, 14, 15, 16, 17, 18, 19, 20, 21, 22,
                        23, 24, 24, 25, 26, 27, 28, 28, 29, 30,
                        30, 31, 31, 31, 32, 32, 32, 33, 33, 33,
                        34, 34, 35, 35, 36, 36, 37, 37, 38, 38,
                        38, 38, 39, 39, 39, 39, 39, 40, 40, 40,
                        40, 40, 40, 40, 40, 40, 40, 40, 40, 40,
                        40, 40, 40, 40, 40, 40, 40, 40, 40, 40,
                        40, 40, 40, 40, 40, 40, 40, 40, 40, 40]

# panel order: row by row, left = area, right = volume
panels = [
    (narr_coast_area, [coast_area_rcp26, coast_area_rcp45, coast_area_rcp60, coast_area_rcp85],
     [coast_area_rcp26_err, coast_area_rcp45_err, coast_area_rcp60_err, coast_area_rcp85_err]),
    (narr_coast_volume, [coast_volume_rcp26, coast_volume_rcp45, coast_volume_rcp60, coast_volume_rcp85],
     [coast_volume_rcp26_err, coast_volume_rcp45_err, coast_volume_rcp60_err, coast_volume_rcp85_err]),
    (narr_interior_area, [interior_area_rcp26, interior_area_rcp45, interior_area_rcp60, interior_area_rcp85],
     [interior_area_rcp26_err, interior_area_rcp45_err, interior_area_rcp60_err, interior_area_rcp85_err]),
    (narr_interior_volume, [interior_volume_rcp26, interior_volume_rcp45, interior_volume_rcp60, interior_volume_rcp85],
     [interior_volume_rcp26_err, interior_volume_rcp45_err, interior_volume_rcp60_err, interior_volume_rcp85_err]),
    (narr_rockies_area, [rockies_area_rcp26, rockies_area_rcp45, rockies_area_rcp60, rockies_area_rcp85],
     [rockies_area_rcp26_err, rockies_area_rcp45_err, rockies_area_rcp60_err, rockies_area_rcp85_err]),
    (narr_rockies_volume, [rockies_volume_rcp26, rockies_volume_rcp45, rockies_volume_rcp60, rockies_volume_rcp85],
     [rockies_volume_rcp26_err, rockies_volume_rcp45_err, rockies_volume_rcp60_err, rockies_volume_rcp85_err]),
    (narr_all_area, [all_area_rcp26, all_area_rcp45, all_area_rcp60, all_area_rcp85],
     [all_area_rcp26_err, all_area_rcp45_err, all_area_rcp60_err, all_area_rcp85_err]),
    (narr_all_volume, [all_volume_rcp26, all_volume_rcp45, all_volume_rcp60, all_volume_rcp85],
     [all_volume_rcp26_err, all_volume_rcp45_err, all_volume_rcp60_err, all_volume_rcp85_err]),
]

for narr, means, errs in panels:
    assert len(narr) == len(years_narr)
    for m, e in zip(means, errs):
        assert len(m) == len(years_proj) and len(e) == len(years_proj), (len(m), len(e))

# styling
FONT = "Open Sans"
TEXT = "#231f20"
AXIS = "#3a3a3a"
narr_color = "#1a1a1a"
line_colors = ["#1f56a6", "#0b8a43", "#f6893a", "#ed3338"]
bar_colors = ["rgba(35,90,172,0.85)", "rgba(15,140,75,0.8)", "rgba(246,138,58,0.85)", "rgba(238,52,58,0.8)"]
bar_shift = [-0.3, -0.1, 0.1, 0.3]

# page geometry (browser body keeps an 8px margin)
W, H, OFF = 1432, 1534, 8
X0, X1, Y0, Y1 = 154, 1397, 59, 1471      # plot area in page pixels
col_px = [(154, 727), (825, 1397)]
row_px = [(59, 388), (420, 749), (781, 1110), (1142, 1471)]


def px_x(px):
    return (px - X0) / (X1 - X0)


def px_y(py):
    return (Y1 - py) / (Y1 - Y0)


fig = go.Figure()
layout = {}

for p, (narr, means, errs) in enumerate(panels):
    r, c = divmod(p, 2)
    n = p + 1
    sfx = "" if n == 1 else str(n)
    xa, ya, leg = "x" + sfx, "y" + sfx, "legend" + sfx

    fig.add_trace(go.Scatter(x=years_narr, y=[v / 1000 for v in narr], mode="lines",
                             line=dict(color=narr_color, width=2.5), name="NARR",
                             xaxis=xa, yaxis=ya, legend=leg, hoverinfo="skip"))
    for k in range(4):
        fig.add_trace(go.Scatter(
            x=[yr + bar_shift[k] for yr in years_proj], y=[v / 1000 for v in means[k]],
            mode="markers", marker=dict(size=1, color="rgba(0,0,0,0)"),
            error_y=dict(type="data", array=[e / 1000 for e in errs[k]], symmetric=True,
                         color=bar_colors[k], thickness=1.6, width=0),
            showlegend=False, xaxis=xa, yaxis=ya, hoverinfo="skip"))
    for k in range(4):
        fig.add_trace(go.Scatter(x=years_proj, y=[v / 1000 for v in means[k]], mode="lines",
                                 line=dict(color=line_colors[k], width=3), name=scenarios[k],
                                 xaxis=xa, yaxis=ya, legend=leg, hoverinfo="skip"))

    cx0, cx1 = col_px[c]
    ry0, ry1 = row_px[r]
    layout["xaxis" + sfx] = dict(domain=[px_x(cx0), px_x(cx1)], anchor=ya, range=[1980, 2100],
                                 tickmode="array", tickvals=tick_years, ticks="inside", ticklen=5,
                                 tickwidth=1.2, tickcolor=AXIS, showticklabels=False, automargin=False,
                                 showline=True, linecolor=AXIS, linewidth=1.3, mirror=True,
                                 showgrid=False, zeroline=False)
    layout["yaxis" + sfx] = dict(domain=[px_y(ry1), px_y(ry0)], anchor=xa, range=[0, 1.1],
                                 tickmode="array", tickvals=y_ticks, tickformat=".1f",
                                 ticks="inside", ticklen=5, tickwidth=1.2, tickcolor=AXIS,
                                 showticklabels=(c == 0), ticklabelstandoff=5, automargin=False,
                                 tickfont=dict(family=FONT, size=20, color=TEXT),
                                 showline=True, linecolor=AXIS, linewidth=1.3, mirror=True,
                                 showgrid=False, zeroline=False)
    layout[leg] = dict(x=px_x(227 + c * 671), y=px_y(ry0 + 179), xanchor="left", yanchor="top",
                       bgcolor="rgba(0,0,0,0)", itemwidth=30,
                       font=dict(family=FONT, size=18, color=TEXT))

# year labels of the bottom row sit on their own (slightly stretched) scale, as in the original
for n, base in [(9, 7), (10, 8)]:
    fig.add_trace(go.Scatter(x=[], y=[], xaxis="x%d" % n, yaxis="y%d" % base, showlegend=False))
    layout["xaxis%d" % n] = dict(overlaying="x%d" % base, anchor="y%d" % base, range=[1980, 2107.7],
                                 tickmode="array", tickvals=label_years, ticks="", showline=False,
                                 showgrid=False, zeroline=False, ticklabelstandoff=12, automargin=False,
                                 tickfont=dict(family=FONT, size=20, color=TEXT),
                                 title=dict(text="Year", standoff=14,
                                            font=dict(family=FONT, size=20, color=TEXT)))

annotations = []
for c, t in enumerate(col_titles):
    annotations.append(dict(text=t, x=px_x((col_px[c][0] + col_px[c][1]) / 2), y=px_y(33),
                            xref="paper", yref="paper", xanchor="center", yanchor="middle",
                            showarrow=False, font=dict(family=FONT, size=20, color=TEXT)))
for r in range(4):
    ry0, ry1 = row_px[r]
    annotations.append(dict(text=row_letters[r], x=px_x(71), y=px_y(ry0 + 3), xref="paper", yref="paper",
                            xanchor="center", yanchor="middle", showarrow=False,
                            font=dict(family=FONT, size=22, color=TEXT)))
    annotations.append(dict(text=row_names[r], x=px_x(42), y=px_y((ry0 + ry1) / 2), xref="paper",
                            yref="paper", xanchor="center", yanchor="middle", textangle=-90,
                            showarrow=False, font=dict(family=FONT, size=20, color=TEXT)))

frame = dict(type="rect", xref="paper", yref="paper", x0=px_x(10), x1=px_x(1443), y0=px_y(1600),
             y1=px_y(11), line=dict(color="#3b8f3e", width=3), fillcolor="rgba(0,0,0,0)", layer="below")

fig.update_layout(
    width=W, height=H,
    margin=dict(l=X0 - OFF, r=W - (X1 - OFF), t=Y0 - OFF, b=H - (Y1 - OFF), autoexpand=False),
    paper_bgcolor="white", plot_bgcolor="white",
    font=dict(family=FONT, size=20, color=TEXT),
    annotations=annotations, shapes=[frame],
    **layout,
)

fig.write_html("out.html")
